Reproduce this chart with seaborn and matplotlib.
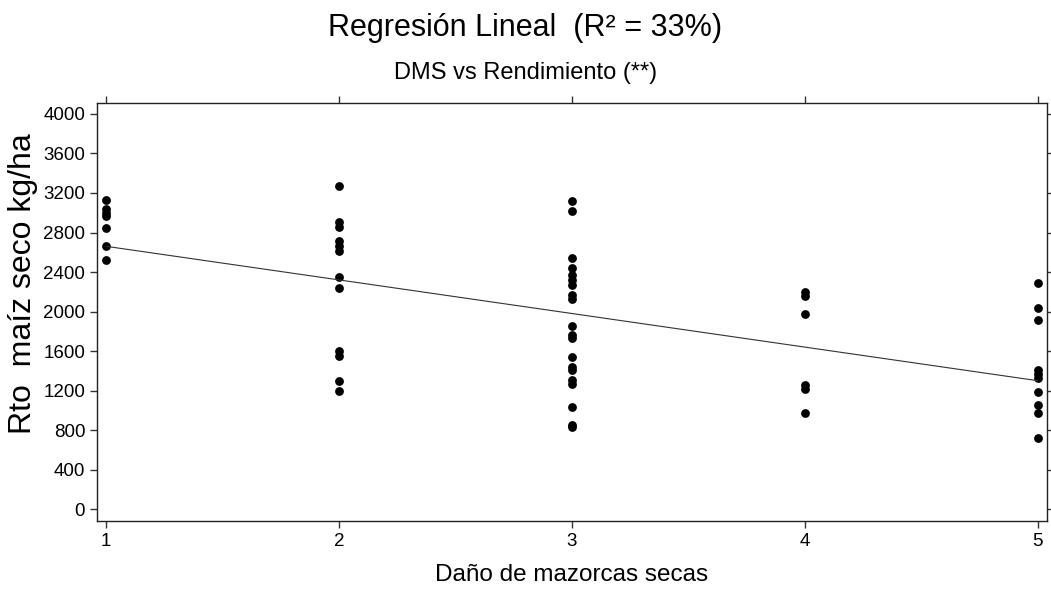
import matplotlib
matplotlib.use("Agg")
import matplotlib.pyplot as plt
import seaborn as sns
import pandas as pd

# Rendimiento (kg/ha) leido por nivel de daño
dano_niveles = [1, 2, 3, 4, 5]
rto_1 = [3130, 3040, 3000, 2970, 2850, 2660, 2520]
rto_2 = [3270, 2910, 2860, 2710, 2660, 2610, 2350, 2240, 1600, 1550, 1300, 1200]
rto_3 = [3120, 3020, 2540, 2440, 2370, 2320, 2270, 2170, 2130, 1850,
         1760, 1730, 1540, 1440, 1410, 1310, 1270, 1030, 850, 830]
rto_4 = [2200, 2160, 1970, 1260, 1220, 970]
rto_5 = [2290, 2040, 1910, 1410, 1370, 1330, 1190, 1050, 970, 720]
y_ticks = [0, 400, 800, 1200, 1600, 2000, 2400, 2800, 3200, 3600, 4000]

grupos = [rto_1, rto_2, rto_3, rto_4, rto_5]
df = pd.DataFrame({
    "dano": [d for d, g in zip(dano_niveles, grupos) for _ in g],
    "rto": [v for g in grupos for v in g],
})

sns.set_style("ticks")
plt.rcParams["font.family"] = ["Liberation Sans", "DejaVu Sans"]
plt.rcParams["text.color"] = "black"

fig = plt.figure(figsize=(10.51, 5.91), dpi=100)
ax = fig.add_axes([0.0923, 0.1184, 0.9039, 0.7073])

sns.regplot(data=df, x="dano", y="rto", ax=ax, ci=None,
            scatter_kws={"s": 40, "color": "black", "edgecolor": "black", "linewidths": 0, "alpha": 1},
            line_kws={"color": "#333333", "lw": 0.8})

ax.set_xlim(0.961, 5.039)
ax.set_ylim(-121, 4111)
ax.set_xticks(dano_niveles)
ax.set_yticks(y_ticks)
ax.tick_params(axis="both", direction="out", length=5, width=1, colors="#333333",
               labelcolor="black", labelsize=13.5)
ax.tick_params(axis="x", top=True, labeltop=False)
ax.tick_params(axis="y", right=True, labelright=False)
for s in ax.spines.values():
    s.set_visible(True)
    s.set_color("#222222")
    s.set_linewidth(1)

ax.set_xlabel("Daño de mazorcas secas", fontsize=17.5, labelpad=10, color="black")
ax.set_ylabel("Rto  maíz seco kg/ha", fontsize=23, color="black")
ax.yaxis.set_label_coords(-0.062, 0.567)

fig.text(0.5, 0.953, "Regresión Lineal  (R² = 33%)", ha="center", va="center", fontsize=22)
fig.text(0.5, 0.876, "DMS vs Rendimiento (**)", ha="center", va="center", fontsize=17)

plt.savefig("out.png", dpi=100)
